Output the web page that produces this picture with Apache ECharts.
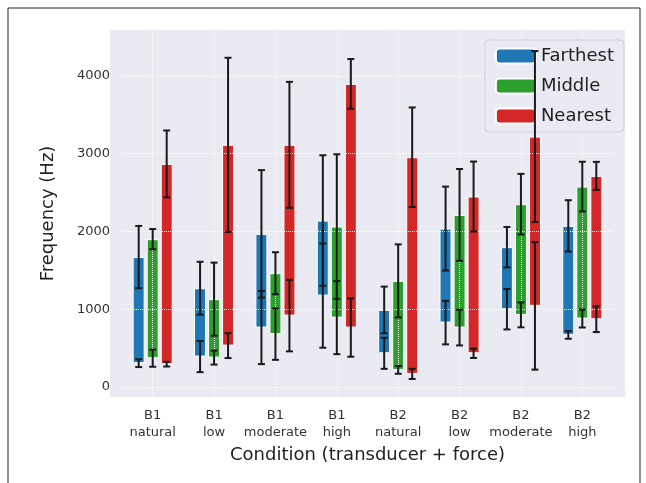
<!DOCTYPE html>
<html>
<head>
<meta charset="utf-8">
<script src="https://cdn.jsdelivr.net/npm/echarts@6/dist/echarts.min.js"></script>
<style>html,body{margin:0;padding:0;background:#fff}#c{width:646px;height:483px}</style>
</head>
<body>
<div id="c"></div>
<script>
// 条件类别
var categories = ['B1\nnatural', 'B1\nlow', 'B1\nmoderate', 'B1\nhigh', 'B2\nnatural', 'B2\nlow', 'B2\nmoderate', 'B2\nhigh'];
var seriesNames = ['Farthest', 'Middle', 'Nearest'];
var colors = ['#1f77b4', '#2ca02c', '#d62728'];
var yTicks = [0, 1000, 2000, 3000, 4000];

// 每组: 底部值, 顶部值, 底部误差, 顶部误差
var farthestBottom = [305, 390, 763, 1174, 432, 827, 999, 669];
var farthestTop = [1670, 1269, 1968, 2139, 990, 2036, 1797, 2071];
var farthestBottomErr = [50, 200, 470, 670, 200, 280, 260, 50];
var farthestTopErr = [400, 340, 820, 840, 300, 540, 260, 330];

var middleBottom = [369, 377, 678, 891, 219, 763, 926, 879];
var middleTop = [1900, 1128, 1462, 2062, 1363, 2212, 2350, 2576];
var middleBottomErr = [110, 90, 330, 470, 50, 230, 160, 115];
var middleTopErr = [130, 470, 270, 930, 470, 590, 390, 320];

var nearestBottom = [292, 531, 917, 763, 167, 432, 1042, 870];
var nearestTop = [2868, 3113, 3113, 3897, 2954, 2448, 3219, 2714];
var nearestBottomErr = [30, 160, 460, 375, 65, 60, 820, 165];
var nearestTopErr = [430, 1120, 810, 320, 640, 450, 1100, 180];

var groups = [
	[farthestBottom, farthestTop, farthestBottomErr, farthestTopErr],
	[middleBottom, middleTop, middleBottomErr, middleTopErr],
	[nearestBottom, nearestTop, nearestBottomErr, nearestTopErr]
];
var offsets = [-14, 0, 14];

var chart = echarts.init(document.getElementById('c'));
var series = [];

// 网格线
series.push({
	type: 'line', data: [], z: 1, silent: true,
	markLine: {
		silent: true, symbol: 'none', label: {show: false}, animation: false,
		lineStyle: {color: '#fff', type: 'dotted', width: 1},
		data: yTicks.map(function(v) { return {yAxis: v}; })
			.concat(categories.map(function(c) { return {xAxis: c}; }))
	}
});

for (var s = 0; s < 3; s++) {
	var g = groups[s];
	series.push({
		name: seriesNames[s] + '_base', type: 'bar', stack: 's' + s, barWidth: 12, barGap: '17%',
		itemStyle: {color: 'transparent'}, silent: true, z: 2,
		data: g[0]
	});
	series.push({
		name: seriesNames[s], type: 'bar', stack: 's' + s, barWidth: 12, barGap: '17%',
		itemStyle: {color: colors[s], borderColor: '#fff', borderWidth: 1}, z: 2,
		data: g[1].map(function(v, i) { return v - g[0][i]; })
	});
}

// 误差线
for (var s = 0; s < 3; s++) {
	(function(s) {
		var g = groups[s];
		var data = g[0].map(function(b, i) { return [i, b, g[2][i], g[1][i], g[3][i]]; });
		series.push({
			type: 'custom', z: 20, silent: true, clip: false,
			encode: {x: 0, y: 1},
			renderItem: function(params, api) {
				var idx = api.value(0), kids = [];
				[[api.value(1), api.value(2)], [api.value(3), api.value(4)]].forEach(function(p) {
					var hi = api.coord([idx, p[0] + p[1]]), lo = api.coord([idx, p[0] - p[1]]);
					var x = hi[0] + offsets[s];
					var st = {stroke: '#1a1a1a', lineWidth: 2};
					kids.push({type: 'line', shape: {x1: x, y1: hi[1], x2: x, y2: lo[1]}, style: st});
					kids.push({type: 'line', shape: {x1: x - 3.5, y1: hi[1], x2: x + 3.5, y2: hi[1]}, style: st});
					kids.push({type: 'line', shape: {x1: x - 3.5, y1: lo[1], x2: x + 3.5, y2: lo[1]}, style: st});
				});
				return {type: 'group', children: kids};
			},
			data: data
		});
	})(s);
}

var option = {
	animation: false,
	graphic: [
		{type: 'rect', z: -10, shape: {x: 8, y: 8, width: 632, height: 482}, style: {fill: '#fff', stroke: '#222', lineWidth: 1}},
		{type: 'rect', z: -9, shape: {x: 110, y: 30, width: 515, height: 367}, style: {fill: '#eaeaf2'}}
	],
	legend: {
		data: seriesNames, right: 22, top: 40, orient: 'vertical', z: 10,
		itemWidth: 40, itemHeight: 15, itemGap: 12,
		textStyle: {fontSize: 18, color: '#222', fontFamily: 'DejaVu Sans'},
		backgroundColor: '#eaeaf2', borderColor: '#cfcfd6', borderWidth: 1, borderRadius: 4,
		padding: [7, 10, 7, 10]
	},
	grid: {left: 122, right: 33, top: 30, bottom: 86},
	xAxis: {
		type: 'category', data: categories, name: 'Condition (transducer + force)',
		nameLocation: 'middle', nameGap: 46,
		nameTextStyle: {fontSize: 18, color: '#222', fontFamily: 'DejaVu Sans'},
		axisLine: {show: false}, axisTick: {show: false}, splitLine: {show: false},
		axisLabel: {interval: 0, fontSize: 13, color: '#333', lineHeight: 17, margin: 10, fontFamily: 'DejaVu Sans'}
	},
	yAxis: {
		type: 'value', min: -130, max: 4590, name: 'Frequency (Hz)',
		nameLocation: 'middle', nameGap: 65,
		nameTextStyle: {fontSize: 18, color: '#222', fontFamily: 'DejaVu Sans'},
		axisLine: {show: false}, axisTick: {show: false}, splitLine: {show: false},
		axisLabel: {customValues: yTicks, formatter: function(v) { return String(v); }, fontSize: 13, color: '#333', margin: 12, fontFamily: 'DejaVu Sans'}
	},
	series: series
};
chart.setOption(option);
</script>
</body>
</html>
